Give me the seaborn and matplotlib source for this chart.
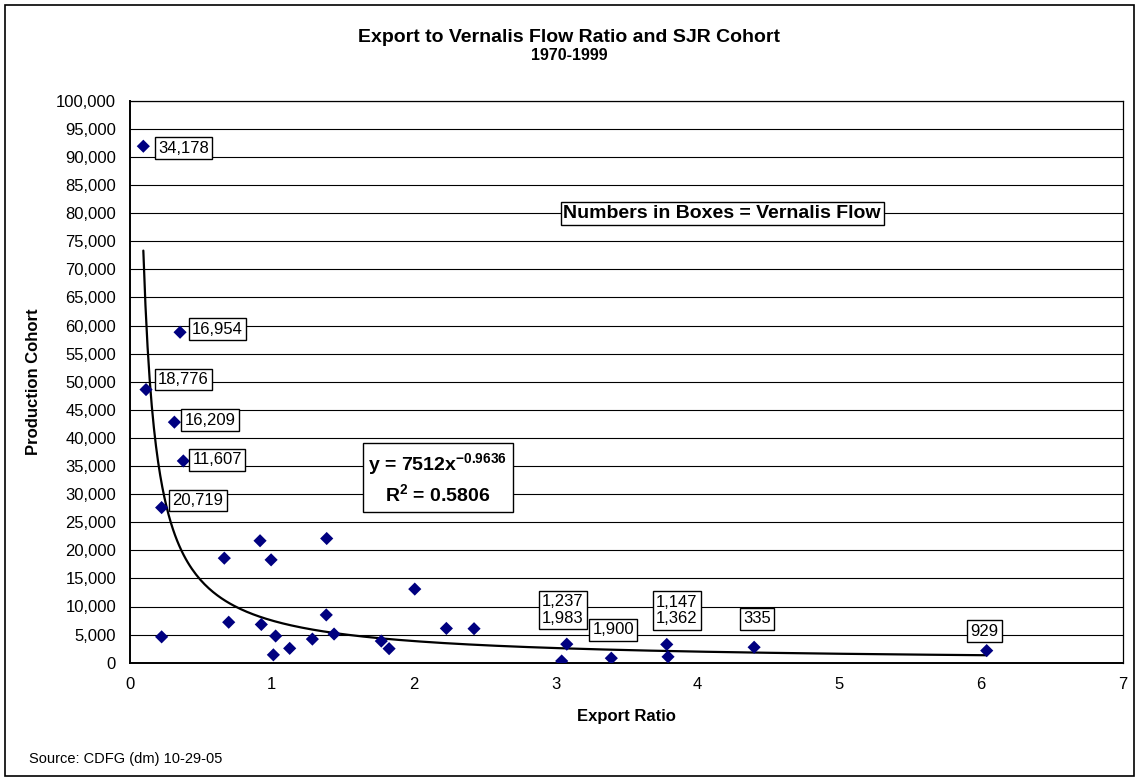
import matplotlib

matplotlib.use("Agg")
import matplotlib.pyplot as plt
import matplotlib.ticker as mticker
import numpy as np
import pandas as pd
import seaborn as sns
from matplotlib.patches import Rectangle

# export / Vernalis flow ratio and SJR production cohort, 1970-1999
export_ratio = [0.094, 0.353, 0.113, 0.313, 0.376, 0.223, 0.665, 0.917, 0.995, 1.387,
                2.008, 0.223, 0.696, 0.926, 1.027, 1.011, 1.126, 1.286, 1.384, 1.439,
                1.772, 1.827, 2.231, 2.426, 3.080, 3.044, 3.394, 3.785, 3.794, 4.401,
                6.041]
cohort = [91900, 58800, 48600, 42800, 35900, 27600, 18600, 21700, 18300, 22100,
          13100, 4600, 7200, 6800, 4750, 1400, 2550, 4200, 8500, 5100,
          3850, 2500, 6100, 6050, 3300, 300, 800, 3250, 1050, 2750,
          2150]

# boxed Vernalis flow labels (index into the arrays above)
label_index = [0, 1, 2, 3, 4, 5, 24, 26, 27, 29, 30]
label_text = ["34,178", "16,954", "18,776", "16,209", "11,607", "20,719",
              "1,237\n1,983", "1,900", "1,147\n1,362", "335", "929"]

# power trendline as reported by the spreadsheet
trend_a = 7512
trend_b = -0.9636
r_squared = 0.5806

x_ticks = [0, 1, 2, 3, 4, 5, 6, 7]
y_ticks = list(range(0, 100001, 5000))

# label placement: (dx px, dy px, side)
label_layout = [
    (15, -2, "right"), (12, 3, "right"), (12, 10, "right"), (10, 2, "right"),
    (9, 1, "right"), (11, 7, "right"),
    (-4, 18, "above"), (2, 21, "above"), (10, 18, "above"), (3, 21, "above"),
    (-2, 12, "above"),
]

W, H = 1138, 778
sns.set_theme(style="white")
plt.rcParams["font.family"] = ["Liberation Sans", "DejaVu Sans"]
plt.rcParams["text.color"] = "black"
plt.rcParams["axes.labelcolor"] = "black"
plt.rcParams["xtick.color"] = "black"
plt.rcParams["ytick.color"] = "black"
plt.rcParams["mathtext.fontset"] = "custom"
plt.rcParams["mathtext.rm"] = "Liberation Sans"
plt.rcParams["mathtext.bf"] = "Liberation Sans:bold"

fig = plt.figure(figsize=(W / 100, H / 100), dpi=100)
ax = fig.add_axes([130 / W, 1 - 662.7 / H, (1122.7 - 130) / W, (662.7 - 100.7) / H])

df = pd.DataFrame({"ratio": export_ratio, "cohort": cohort})

curve_x = np.linspace(min(export_ratio), max(export_ratio), 400)
curve = pd.DataFrame({"ratio": curve_x, "cohort": trend_a * curve_x ** trend_b})
sns.lineplot(data=curve, x="ratio", y="cohort", color="black", linewidth=1.6,
             sort=False, ax=ax, zorder=3)
sns.scatterplot(data=df, x="ratio", y="cohort", marker="D", color="#000080",
                s=45, edgecolor="none", linewidth=0, ax=ax, zorder=4)

ax.set_xlim(0, 7)
ax.set_ylim(0, 100000)
ax.set_xticks(x_ticks)
ax.set_yticks(y_ticks)
ax.yaxis.set_major_formatter(mticker.FuncFormatter(lambda v, _: f"{v:,.0f}"))
ax.grid(axis="y", color="black", linewidth=0.8)
ax.set_axisbelow(True)
for side, sp in ax.spines.items():
    sp.set_visible(True)
    sp.set_color("black")
    sp.set_linewidth(1.4 if side in ("left", "bottom") else 0.9)
ax.tick_params(axis="both", direction="out", length=4, width=1, color="black",
               labelsize=12, labelcolor="black")
ax.tick_params(axis="x", pad=6)
ax.tick_params(axis="y", pad=6)

ax.set_xlabel("Export Ratio", fontsize=12, fontweight="bold")
ax.set_ylabel("Production Cohort", fontsize=12, fontweight="bold")
ax.xaxis.set_label_coords(0.5, (662.7 - 717) / 562)
ax.xaxis.label.set_va("center")
ax.yaxis.set_label_coords((34 - 130) / 992.7, 0.5)
ax.yaxis.label.set_va("center")

box = dict(boxstyle="square,pad=0.2", facecolor="white", edgecolor="black", linewidth=1)
for idx, text, (dx, dy, side) in zip(label_index, label_text, label_layout):
    if side == "right":
        ha, va = "left", "center"
    else:
        ha, va = "center", "bottom"
    ax.annotate(text, (export_ratio[idx], cohort[idx]), xytext=(dx, dy),
                textcoords="offset pixels", ha=ha, va=va, fontsize=12,
                bbox=box, zorder=5, linespacing=1.15)

eq_text = (f"y = {trend_a}x$^{{\\mathbf{{{trend_b}}}}}$\n"
           f"R$^{{\\mathbf{{2}}}}$ = {r_squared}")
fig.text(437.8 / W, 1 - 479 / H, eq_text, ha="center", va="center",
         multialignment="center", fontsize=14, fontweight="bold", linespacing=1.3,
         bbox=dict(boxstyle="square,pad=0.3", facecolor="white", edgecolor="black",
                   linewidth=1), zorder=6)

fig.text(722.2 / W, 1 - 213.8 / H, "Numbers in Boxes = Vernalis Flow", ha="center",
         va="center", fontsize=14, fontweight="bold",
         bbox=dict(boxstyle="square,pad=0.15", facecolor="white", edgecolor="black",
                   linewidth=1), zorder=6)

fig.text(0.5, 1 - 37 / H, "Export to Vernalis Flow Ratio and SJR Cohort",
         ha="center", va="center", fontsize=14, fontweight="bold")
fig.text(0.5, 1 - 55 / H, "1970-1999", ha="center", va="center", fontsize=11.5,
         fontweight="bold")
fig.text(29 / W, 1 - 759 / H, "Source: CDFG (dm) 10-29-05", ha="left", va="center",
         fontsize=10.5)

fig.patches.append(Rectangle((5 / W, 2 / H), (1134 - 5) / W, (773 - 2) / H,
                             transform=fig.transFigure, fill=False,
                             edgecolor="black", linewidth=1.2))

fig.savefig("out.png", dpi=100)
plt.close(fig)
